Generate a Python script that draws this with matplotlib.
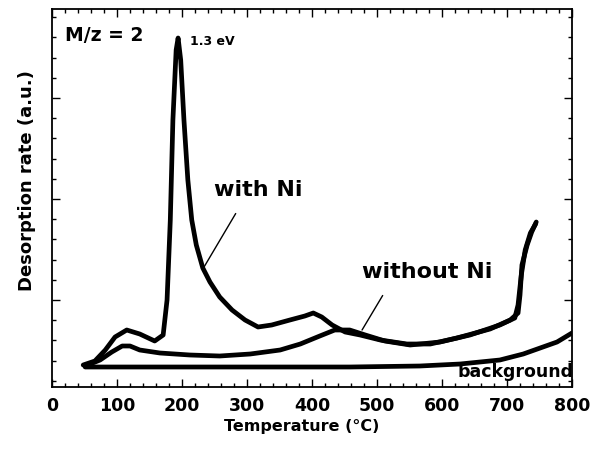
import matplotlib
matplotlib.use("Agg")
import matplotlib.pyplot as plt
from matplotlib.ticker import MultipleLocator

# Temperature (deg C) and desorption rate (a.u.)
t_with = [48, 66, 82, 97, 115, 135, 158, 171, 177, 182, 186, 191, 194, 198, 203, 209, 215, 222,
          232, 243, 258, 277, 297, 317, 338, 366, 389, 402, 415, 431, 451, 474, 505, 546, 582,
          623, 674, 705, 717, 720, 723, 731, 738, 745]
py_with = [365, 361, 350, 337, 330, 334, 341, 335, 300, 220, 120, 50, 38, 60, 120, 180, 220, 245,
           268, 282, 297, 310, 320, 327, 325, 320, 316, 313, 317, 325, 332, 335, 340, 344, 344,
           338, 329, 320, 313, 295, 265, 245, 232, 222]

t_without = [55, 74, 92, 108, 120, 135, 166, 212, 258, 305, 351, 382, 412, 435, 458, 482, 512,
             551, 597, 643, 689, 712, 717, 722, 728, 736, 744]
py_without = [365, 360, 352, 346, 346, 350, 353, 355, 356, 354, 350, 344, 336, 330, 330, 335, 341,
              345, 342, 335, 325, 318, 305, 275, 250, 233, 224]

t_bg = [51, 74, 151, 305, 458, 566, 628, 689, 725, 751, 777, 800]
py_bg = [367, 367, 367, 367, 367, 366, 364, 360, 354, 348, 342, 333]

def to_au(v):
    return [(401 - p) / 101 for p in v]

y_with = to_au(py_with)
y_without = to_au(py_without)
y_bg = to_au(py_bg)

plt.rcParams['font.family'] = ['DejaVu Sans']

fig = plt.figure(figsize=(5.91, 4.54), dpi=100)
ax = fig.add_axes([52/591, 67/454, 520/591, 378/454])

lw = 3.4
kw = dict(color='black', lw=lw, solid_capstyle='round', solid_joinstyle='round')
ax.plot(t_bg, y_bg, **kw)
ax.plot(t_without, y_without, **kw)
ax.plot(t_with, y_with, **kw)

ax.set_xlim(0, 800)
ax.set_ylim((401 - 387) / 101, (401 - 9) / 101)
ax.xaxis.set_major_locator(MultipleLocator(100))
ax.xaxis.set_minor_locator(MultipleLocator(20))
ax.yaxis.set_major_locator(MultipleLocator(1))
ax.yaxis.set_minor_locator(MultipleLocator(0.2))
ax.tick_params(which='both', direction='in', top=True, right=True, width=1.0)
ax.tick_params(which='major', length=6)
ax.tick_params(which='minor', length=3)
ax.tick_params(axis='x', labelsize=12.5, pad=7)
ax.tick_params(axis='y', labelleft=False)
for lab in ax.get_xticklabels():
    lab.set_fontweight('bold')
for s in ax.spines.values():
    s.set_linewidth(1.3)

ax.set_xlabel('Temperature (°C)', fontsize=11.5, fontweight='bold', labelpad=5)
ax.xaxis.set_label_coords(0.48, -0.085)
ax.set_ylabel('Desorption rate (a.u.)', fontsize=13, fontweight='bold')
ax.yaxis.set_label_coords(-0.03, 0.545)

ax.text(0.025, 0.93, 'M/z = 2', transform=ax.transAxes, fontsize=13.5, fontweight='bold',
        ha='left', va='center')
ax.text(213, (401 - 42) / 101, '1.3 eV', fontsize=9, fontweight='bold', ha='left', va='center')

ax.annotate('with Ni', xy=(233, (401 - 268) / 101), xytext=(250, (401 - 190) / 101),
            fontsize=16, fontweight='bold', ha='left', va='center',
            arrowprops=dict(arrowstyle='-', color='black', lw=1.0, shrinkA=9, shrinkB=0,
                            relpos=(0.33, 0)))
ax.annotate('without Ni', xy=(477, (401 - 330) / 101), xytext=(477, (401 - 272) / 101),
            fontsize=16, fontweight='bold', ha='left', va='center',
            arrowprops=dict(arrowstyle='-', color='black', lw=1.0, shrinkA=9, shrinkB=0,
                            relpos=(0.22, 0)))
ax.text(803, (401 - 372) / 101, 'background', fontsize=12.5, fontweight='bold', ha='right',
        va='center', clip_on=False)

fig.savefig('out.png', dpi=100)
